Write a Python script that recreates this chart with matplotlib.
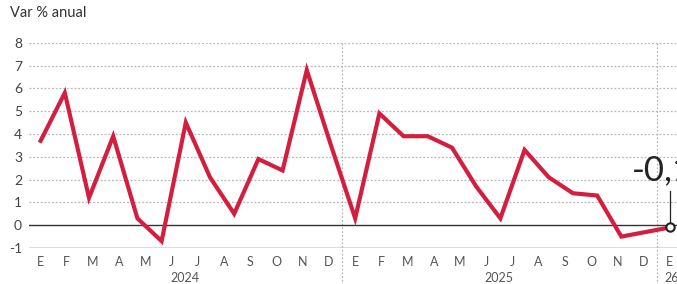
import numpy as np
import matplotlib
matplotlib.use("Agg")
from matplotlib import pyplot as plt

# monthly values, Dec 2023 .. Jan 2026 as drawn in the reference
values = [3.7, 5.8, 1.2, 3.9, 0.3, -0.7, 4.5, 2.1, 0.5, 2.9, 2.4, 6.8, 3.5,
          0.3, 4.9, 3.9, 3.9, 3.4, 1.7, 0.3, 3.3, 2.1, 1.4, 1.3, -0.5, -0.3, -0.1]
month_labels = ["E", "F", "M", "A", "M", "J", "J", "A", "S", "O", "N", "D"] * 2 + ["E"]
year_labels = ["2024", "2025", "26"]
y_ticks = list(range(-1, 9))
last_label = "-0,1"

RED = "#d31f3f"
GRID = "#b8b8b8"
TEXT = "#444444"

plt.rcParams["font.family"] = ["Lato", "DejaVu Sans"]

fig = plt.figure(figsize=(6.77, 2.84), dpi=100)
ax = fig.add_axes([29 / 677, 36 / 284, 1 - 29 / 677, (248 - 42.7) / 284])

x = np.arange(len(values))
n_last = x[-1]
tick_pos = np.linspace(0, n_last, len(month_labels))

ax.set_xlim(-0.48, 26.3)
ax.set_ylim(-1, 8)

# grid
for v in y_ticks:
    if v == 0:
        ax.axhline(v, color="#333333", lw=1.0, zorder=2)
    elif v == -1:
        ax.axhline(v, color="#dddddd", lw=1.6, zorder=1)
    else:
        ax.axhline(v, color=GRID, lw=0.9, ls=(0, (1.5, 1.5)), zorder=1)

# year separators
for sep in [(tick_pos[11] + tick_pos[12]) / 2, (tick_pos[23] + tick_pos[24]) / 2]:
    ax.axvline(sep, ymin=-0.18, ymax=1.0, color=GRID, lw=0.9,
               ls=(0, (1.5, 1.5)), clip_on=False, zorder=1)

ax.plot(x, values, color=RED, lw=3.0, solid_joinstyle="miter", zorder=3)

# end marker and label
ax.plot([n_last, n_last], [values[-1], values[-1] + 1.6], color="#222222", lw=0.9, zorder=3)
ax.plot(n_last, values[-1], "o", ms=6, mfc="white", mec="#222222", mew=1.5, zorder=4)
ax.text(n_last - 1.55, values[-1] + 2.05, last_label, fontsize=25, color="#222222",
        weight="normal", ha="left", va="baseline", zorder=5)

ax.set_yticks(y_ticks)
ax.set_yticklabels([str(v) for v in y_ticks], fontsize=10, color=TEXT)
ax.set_xticks(tick_pos)
ax.set_xticklabels(month_labels, fontsize=9, color="#555555")
ax.tick_params(length=0)
ax.tick_params(axis="y", pad=5)
ax.tick_params(axis="x", pad=6)

for s in ax.spines.values():
    s.set_visible(False)

# year labels centred under their months
ax.text(tick_pos[:12].mean(), -2.3, year_labels[0], ha="center", va="center",
        fontsize=9, color="#555555")
ax.text(tick_pos[12:24].mean(), -2.3, year_labels[1], ha="center", va="center",
        fontsize=9, color="#555555")
ax.text(tick_pos[24] - 0.2, -2.3, year_labels[2], ha="left", va="center",
        fontsize=9, color="#555555")

fig.text(10 / 677, 1 - 13 / 284, "Var % anual", fontsize=10.5, color="#333333",
         ha="left", va="center")

fig.savefig("out.png", dpi=100)
